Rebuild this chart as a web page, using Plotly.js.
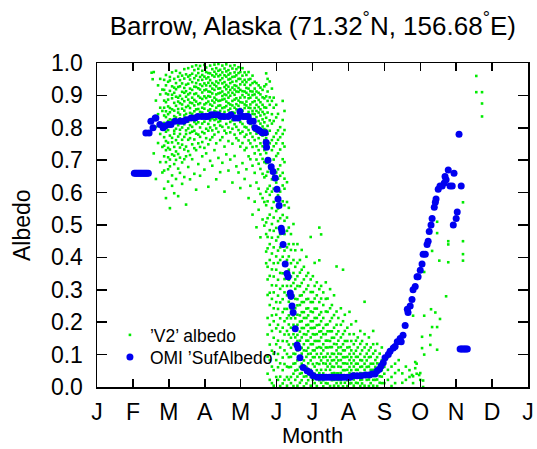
<!DOCTYPE html>
<html>
<head>
<meta charset="utf-8">
<script src="https://cdn.plot.ly/plotly-3.0.1.min.js"></script>
<style>
  html, body { margin: 0; padding: 0; background: #fff; }
  #chart { width: 537px; height: 449px; }
</style>
</head>
<body>
<div id="chart"></div>
<script>
// Month tick labels (axis in month units, 0 = 1 Jan, 12 = 31 Dec)
const monthTicks = [0,1,2,3,4,5,6,7,8,9,10,11,12];
const monthLabels = ['J','F','M','A','M','J','J','A','S','O','N','D','J'];
const albedoTicks = [0,0.1,0.2,0.3,0.4,0.5,0.6,0.7,0.8,0.9,1.0];

// 'V2' albedo: column positions (months) ...
const v2Month = [
  1.58,1.64,1.70,1.76,1.82,
  1.87,1.92,1.98,2.03,2.09,2.15,2.20,2.26,2.31,2.37,2.43,2.48,2.54,2.59,2.65,2.71,2.76,2.82,2.87,2.93,2.99,
  3.04,3.10,3.15,3.21,3.27,3.32,3.38,3.43,3.49,3.55,3.60,3.66,3.71,3.77,3.83,3.88,3.94,3.99,
  4.05,4.11,4.16,4.22,4.27,4.33,4.39,4.44,4.50,4.55,4.61,4.66,
  4.71,4.75,4.81,4.87,4.92,4.99,5.04,5.10,5.17,5.22,5.29,
  5.34,5.40,5.47,5.52,5.58,5.65,5.70,5.76,5.83,5.88,5.95,6.01,6.06,6.12,6.19,6.24,6.30,6.37,6.42,6.49,6.54,6.60,
  6.67,6.72,6.79,6.85,6.90,6.97,7.03,7.08,7.15,7.21,7.26,7.33,7.38,7.45,7.51,7.57,7.62,7.69,7.75,7.80,7.87,7.93,
  8.00,8.10,8.20,8.30,8.40,8.50,8.60,8.70,8.80,8.90,9.00
];
// ... and the albedo values (x1000) read in each column
const v2Milli = [
  "972 721","884 803 642","931 842 753","903 862 781 694 951","918 852 803 741 662",
  "948 917 884 862 838 815 796 771 745 712 668 612","963 931 906 879 851 833 802 788 759 731 694 583",
  "942 903 887 866 842 821 793 754 738 709 672 634","957 946 914 861 848 826 804 776 733 702 681 552",
  "971 928 902 891 857 824 812 769 755 718 653 621","951 924 908 877 853 836 791 782 741 714 688 598",
  "976 938 919 896 868 832 818 797 762 727 701 642","958 926 893 881 858 847 808 773 752 719 674 589",
  "969 947 928 899 876 841 829 794 781 739 708 661","961 937 911 889 872 859 822 801 763 748 693 627",
  "981 952 923 908 882 853 838 811 772 733 703 648","965 933 913 896 864 843 827 792 781 742 712 563",
  "984 958 936 903 887 868 831 819 798 763 728 679","962 949 921 907 878 861 846 808 784 768 716 641",
  "989 967 941 917 893 876 843 827 803 788 749 703","978 953 927 904 886 869 851 818 791 764 737 658",
  "993 961 938 926 906 881 857 839 812 782 731 609","982 969 947 922 898 873 858 832 817 779 752 688",
  "991 957 934 918 893 876 849 836 801 772 741 652","976 963 948 929 909 889 862 847 813 787 756 712",
  "994 958 937 916 897 872 859 831 819 783 738 671",
  "986 972 952 931 918 892 876 842 828 797 768 721","969 956 939 912 898 881 853 839 812 791 749 618",
  "992 968 947 929 911 896 872 857 823 801 763 698","981 962 938 921 906 884 868 841 829 792 771 683",
  "995 973 958 933 917 893 878 852 824 808 779 731","984 966 943 928 903 887 862 849 827 798 752 641",
  "997 976 959 938 921 906 883 868 839 818 787 707","979 963 947 922 908 884 869 852 821 807 762 663",
  "992 971 953 937 912 898 887 861 842 803 771 692","983 962 941 926 903 889 863 849 828 791 742 603",
  "996 974 958 932 919 901 881 867 838 812 783 718","978 964 949 927 909 893 876 854 831 801 759 668",
  "991 968 951 938 917 899 872 859 837 818 786 702","983 957 942 924 908 883 869 848 823 797 751 631",
  "993 971 958 931 918 902 887 862 846 811 779 713","981 962 944 929 912 891 873 857 831 803 768 681",
  "987 969 951 923 911 884 868 842 829 793 761 662","972 951 934 917 893 879 858 832 818 783 742 614",
  "984 961 942 913 901 878 853 841 812 788 753 691","971 948 933 912 894 872 861 829 803 772 731 642",
  "963 941 923 908 881 869 842 831 801 779 738 672","972 949 921 902 891 862 849 822 793 761 712 583",
  "951 932 913 893 872 861 829 812 783 752 703 621","961 938 912 901 879 852 843 804 772 741 683 532",
  "942 921 903 882 861 842 823 791 762 721 661 572","938 912 893 871 852 833 801 782 743 702 631 493",
  "931 908 886 864 847 821 797 768 731 689 612 547","924 903 879 857 838 813 788 752 718 673 596 462",
  "917 894 871 849 826 804 776 743 704 658 583 517","928 891 863 842 817 796 762 731 694 647 571 498",
  "968 934 897 862 831 793 768 722 691 652 603 561 508 472 418 382",
  "951 912 883 847 806 781 742 693 664 612 573 521 463 428 371 332 284 213 162 94 41",
  "943 894 871 823 791 752 703 674 621 593 532 484 441 392 343 291 253 192 131 83 22",
  "921 883 842 813 762 731 684 641 603 552 503 461 412 363 314 272 221 173 112 63 12",
  "893 862 821 772 743 702 653 612 571 523 482 431 382 341 292 243 203 152 103 52 4",
  "871 832 783 752 713 662 631 582 543 491 452 403 362 313 262 223 181 132 83 31",
  "843 792 763 721 672 643 592 551 512 463 421 383 331 282 241 192 143 102 61 22",
  "802 771 733 684 652 603 562 521 472 431 392 352 303 261 212 171 122 73 32 3",
  "883 824 781 752 703 661 622 573 531 492 443 402 351 312 271 231 183 142 91 52 11",
  "852 793 742 694 643 612 561 513 472 421 382 333 292 241 203 162 113 71 22",
  "632 571 523 482 431 392 353 312 283 241 212 173 141 102 63 31 4",
  "553 492 441 403 362 331 292 263 221 193 162 131 92 61 23","472 423 382 341 312 273 241 212 183 152 121 93 62 31 12",
  "503 441 392 352 321 282 253 221 192 163 132 103 72 41 3","422 371 332 303 272 243 212 181 153 131 102 73 51 22",
  "441 383 342 312 271 252 223 192 161 142 113 82 53 32 4","392 353 311 282 253 221 202 171 143 122 91 62 41 13",
  "423 362 321 283 262 231 203 182 153 121 103 72 43 21","371 332 293 262 231 213 182 163 132 113 82 61 32 2",
  "402 343 302 271 242 213 191 162 143 112 93 62 33 11","352 313 272 243 221 192 172 143 121 102 73 52 21",
  "463 332 293 262 233 203 182 153 132 103 82 53 31 4","342 293 262 231 203 182 163 132 113 92 71 42 22",
  "383 312 273 242 213 183 162 142 113 92 63 41 12","323 283 242 213 191 163 142 121 102 73 52 31 3",
  "492 391 302 262 223 192 171 142 123 92 71 43 21","471 312 273 231 203 172 153 121 103 82 53 32 13",
  "292 253 213 182 163 132 113 92 73 42 21 2","323 272 233 192 163 143 122 93 72 53 31 12",
  "273 232 193 172 143 122 103 82 63 32 11","302 243 203 172 142 123 93 72 53 31 3",
  "253 213 172 152 123 103 82 63 42 21","283 222 183 152 133 102 83 62 43 22 4",
  "372 233 192 163 132 113 92 73 42 23 12","213 172 143 122 103 82 63 42 22 3",
  "243 192 153 123 102 83 62 43 21 12","362 203 163 132 113 92 73 52 33 2",
  "223 173 142 113 92 73 52 33 13","183 142 122 93 72 53 32 21 3",
  "232 163 123 102 83 62 43 22 11","193 142 113 92 73 52 33 12","163 132 103 82 63 42 23 4",
  "203 143 112 93 72 53 32 13","153 122 93 72 53 33 12","173 133 102 83 62 43 22 3",
  "142 113 82 63 42 23 11","263 163 122 93 72 53 32 4","132 103 82 62 43 22","153 113 92 63 42 23 3",
  "122 93 72 53 32 12","173 132 103 72 53 22 4","112 83 62 43 22","133 92 73 42 23 3",
  "103 72 53 33 13","122 83 52 32 12",
  "93 62 41 12","92 53 22","63 31 3","72 43 12","83 52","42 13","63 22","52 31","33 12","72 41","43 22"
];
// scattered autumn / early-winter 'V2' points
const v2ExtraMonth  = [8.80,9.05,9.05,9.11,9.11,9.11,9.28,9.28,9.30,9.33,9.33,9.42,9.47,9.47,9.47,9.47,9.53,9.55,9.72,9.78,9.78,9.78,10.19,10.19,10.19,10.19,10.56,10.56,10.72,10.72,10.72,8.86,8.86,8.77,8.97,9.08,9.08,1.52,1.55];
const v2ExtraAlbedo = [0.22,0.155,0.12,0.10,0.22,0.355,0.16,0.13,0.24,0.42,0.185,0.23,0.185,0.115,0.51,0.475,0.39,0.21,0.28,0.45,0.44,0.385,0.57,0.45,0.41,0.39,0.96,0.91,0.91,0.875,0.835,0.077,0.058,0.037,0.037,0.02,0.0,0.97,0.95];

// OMI 'SufAlbedo'
const omiMonth = [
  1.04,1.075,1.11,1.145,1.18,1.215,1.25,1.285,1.32,1.355,1.39,1.43,
  1.36,1.45,1.50,1.56,1.62,1.64,1.75,1.84,1.89,1.98,2.06,2.17,2.31,2.40,2.48,2.62,2.73,2.81,2.92,
  3.01,3.09,3.18,3.26,3.37,3.45,3.54,3.65,3.73,3.84,3.93,3.98,4.07,4.15,4.21,4.26,4.35,4.40,4.48,4.54,4.60,4.68,
  4.71,4.72,4.76,4.85,4.90,4.96,5.01,5.04,5.07,5.13,5.15,5.18,5.24,5.29,5.32,5.38,5.40,5.43,5.46,5.52,5.57,5.60,
  5.65,5.74,5.85,5.93,6.02,6.13,6.22,6.30,6.38,6.47,6.55,6.63,6.72,6.80,6.88,6.97,7.05,
  7.13,7.24,7.35,7.47,7.58,7.66,7.74,7.80,7.86,7.91,7.97,8.02,8.11,8.16,8.25,8.30,8.36,8.44,8.47,8.52,8.58,
  8.64,8.66,8.72,8.77,8.80,8.86,8.91,8.94,9.00,9.05,9.08,9.14,9.19,9.22,9.25,9.30,9.33,9.39,9.42,9.44,9.50,
  9.55,9.61,9.67,9.69,9.72,9.78,9.83,9.89,9.94,10.14,10.08,10.00,10.03,9.92,
  10.11,10.15,10.19,10.23,10.27,10.31
];
const omiAlbedo = [
  0.66,0.66,0.66,0.66,0.66,0.66,0.66,0.66,0.66,0.66,0.66,0.66,
  0.784,0.784,0.82,0.80,0.83,0.83,0.81,0.80,0.805,0.81,0.81,0.82,0.82,0.82,0.825,0.83,0.83,0.835,0.835,
  0.835,0.835,0.84,0.84,0.84,0.835,0.835,0.835,0.84,0.83,0.83,0.85,0.835,0.835,0.835,0.82,0.82,0.80,0.795,0.79,0.785,0.785,
  0.755,0.74,0.70,0.68,0.665,0.645,0.61,0.58,0.56,0.49,0.48,0.44,0.38,0.35,0.34,0.29,0.28,0.25,0.23,0.18,0.13,0.12,
  0.09,0.06,0.05,0.045,0.035,0.03,0.03,0.03,0.03,0.03,0.03,0.03,0.03,0.03,0.03,0.03,0.03,
  0.035,0.035,0.035,0.037,0.037,0.04,0.04,0.05,0.055,0.065,0.075,0.09,0.10,0.11,0.12,0.125,0.14,0.15,0.14,0.16,0.19,
  0.24,0.23,0.25,0.27,0.30,0.31,0.34,0.34,0.36,0.38,0.41,0.41,0.44,0.45,0.48,0.50,0.52,0.555,0.57,0.58,0.61,
  0.62,0.62,0.63,0.65,0.64,0.67,0.62,0.62,0.66,0.62,0.78,0.52,0.54,0.50,
  0.117,0.117,0.117,0.117,0.117,0.117
];

// expand V2 columns into point lists
const v2x = [], v2y = [];
const nCols = Math.min(v2Month.length, v2Milli.length);
for (let i = 0; i < nCols; i++) {
  v2Milli[i].split(' ').forEach(s => { v2x.push(v2Month[i]); v2y.push(Number(s) / 1000); });
}
v2ExtraMonth.forEach((m, i) => { v2x.push(m); v2y.push(v2ExtraAlbedo[i]); });

const FONT = 'Liberation Sans, Arial, sans-serif';

const traces = [
  {
    x: v2x, y: v2y, type: 'scatter', mode: 'markers',
    name: '\u2019V2\u2019 albedo', legend: 'legend',
    marker: { color: 'rgb(0,235,0)', size: 2.6, symbol: 'square', line: { width: 0 } },
    hoverinfo: 'skip'
  },
  {
    x: omiMonth, y: omiAlbedo, type: 'scatter', mode: 'markers',
    name: 'OMI \u2019SufAlbedo\u2019', legend: 'legend2',
    marker: { color: 'rgb(0,0,240)', size: 7, symbol: 'circle', line: { width: 0 } }
  }
];

const legendCommon = {
  xanchor: 'left', yanchor: 'middle',
  bgcolor: 'rgba(0,0,0,0)', borderwidth: 0,
  font: { family: FONT, size: 17.5, color: '#000' },
  itemsizing: 'trace'
};

const layout = {
  width: 537, height: 449,
  margin: { l: 97, r: 9, t: 63, b: 62 },
  paper_bgcolor: '#fff', plot_bgcolor: '#fff',
  font: { family: FONT, color: '#000', size: 23 },
  title: {
    text: 'Barrow, Alaska (71.32<sup>\u00b0</sup>N, 156.68<sup>\u00b0</sup>E)',
    font: { family: FONT, size: 26, color: '#000' },
    x: 0.5825, xref: 'container', xanchor: 'center',
    y: 1 - 26 / 449, yref: 'container', yanchor: 'middle'
  },
  xaxis: {
    range: [0, 12], tickvals: monthTicks, ticktext: monthLabels,
    ticks: 'inside', ticklen: 8, tickwidth: 1.5, tickcolor: '#000',
    showline: true, linewidth: 1.5, linecolor: '#000', mirror: 'ticks',
    showgrid: false, zeroline: false,
    tickfont: { family: FONT, size: 23 },
    ticklabelstandoff: 4
  },
  yaxis: {
    range: [0, 1], tickvals: albedoTicks, tickformat: '.1f',
    ticks: 'inside', ticklen: 10, tickwidth: 1.5, tickcolor: '#000',
    showline: true, linewidth: 1.5, linecolor: '#000', mirror: 'ticks',
    showgrid: false, zeroline: false,
    tickfont: { family: FONT, size: 23 },
    ticklabelstandoff: 8
  },
  annotations: [
    {
      text: 'Albedo', textangle: -90, showarrow: false,
      xref: 'paper', yref: 'paper', x: (22 - 97) / 431, y: 0.5,
      xanchor: 'center', yanchor: 'middle',
      font: { family: FONT, size: 23, color: '#000' }
    },
    {
      text: 'Month', showarrow: false, borderpad: 0,
      xref: 'paper', yref: 'paper', x: 0.5, y: (387 - 448.5) / 324,
      xanchor: 'center', yanchor: 'bottom',
      font: { family: FONT, size: 22, color: '#000' }
    }
  ],
  showlegend: true,
  legend: Object.assign({ x: 0.03, y: (387 - 335) / 324 }, legendCommon),
  legend2: Object.assign({ x: 0.03, y: (387 - 357) / 324 }, legendCommon)
};

Plotly.newPlot('chart', traces, layout, { staticPlot: true, displayModeBar: false });
</script>
</body>
</html>
